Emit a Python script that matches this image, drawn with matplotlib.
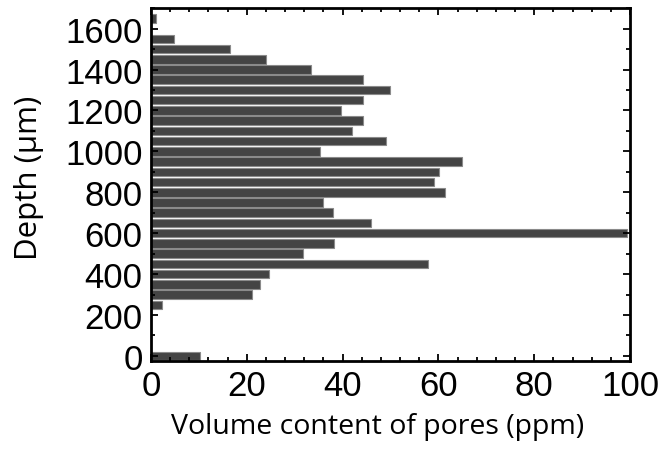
import matplotlib
matplotlib.use("Agg")
import matplotlib.pyplot as plt
from matplotlib.ticker import MultipleLocator

# Depth (µm) of each slice and its pore volume content (ppm)
depths = [0, 250, 300, 350, 400, 450, 500, 550, 600, 650, 700, 750, 800,
          850, 900, 950, 1000, 1050, 1100, 1150, 1200, 1250, 1300, 1350,
          1400, 1450, 1500, 1550, 1650]
values = [10.3, 2.2, 21.0, 22.8, 24.6, 57.9, 31.8, 38.2, 99.3, 46.0, 37.9,
          36.0, 61.3, 59.1, 60.2, 64.9, 35.3, 49.1, 42.0, 44.3, 39.7, 44.3,
          49.8, 44.2, 33.5, 24.0, 16.5, 4.9, 1.0]

x_ticks = [0, 20, 40, 60, 80, 100]
y_ticks = [0, 200, 400, 600, 800, 1000, 1200, 1400, 1600]

fig = plt.figure(figsize=(6.64, 4.56), dpi=100)
ax = fig.add_axes([0.2274, 0.206, 0.9488 - 0.2274, 0.980 - 0.206])

ax.barh(depths, values, height=42, color="#444444", edgecolor="#8a8a8a",
        linewidth=0.8, align="center")

ax.set_xlim(0, 100)
ax.set_ylim(-25, 1700)
ax.set_xticks(x_ticks)
ax.set_yticks(y_ticks)
ax.xaxis.set_minor_locator(MultipleLocator(4))
ax.yaxis.set_minor_locator(MultipleLocator(100))

tick_font = {"family": "Liberation Sans", "size": 25}
ax.set_xticklabels([str(t) for t in x_ticks], fontdict=tick_font)
ax.set_yticklabels([str(t) for t in y_ticks], fontdict=tick_font)

ax.tick_params(which="both", direction="in", top=True, right=True,
               width=1.3, color="black")
ax.tick_params(which="major", length=5)
ax.tick_params(which="minor", length=3)
ax.tick_params(axis="y", which="major", pad=6)
ax.tick_params(axis="x", which="major", pad=6)

for s in ax.spines.values():
    s.set_linewidth(2)
    s.set_color("black")

ax.set_xlabel("Volume content of pores (ppm)", family="Open Sans", size=20.5)
ax.set_ylabel("Depth (μm)", family="Open Sans", size=22.5)
ax.xaxis.set_label_coords(0.472, -0.145)
ax.yaxis.set_label_coords(-0.224, 0.521)

fig.savefig("out.png", dpi=100)
